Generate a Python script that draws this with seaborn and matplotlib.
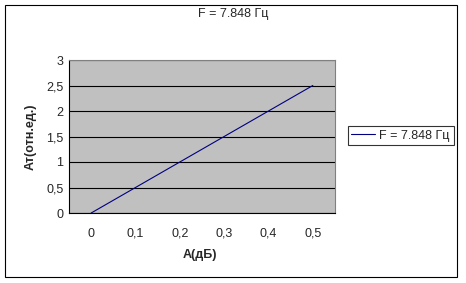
import matplotlib
matplotlib.use("Agg")
import matplotlib.pyplot as plt
import matplotlib.patches as mpatches
import seaborn as sns
import pandas as pd
import numpy as np

categories = ["0", "0,1", "0,2", "0,3", "0,4", "0,5"]
values = [0.0, 0.5, 1.0, 1.5, 2.0, 2.5]
y_ticks = [0, 0.5, 1, 1.5, 2, 2.5, 3]
y_tick_labels = ["0", "0,5", "1", "1,5", "2", "2,5", "3"]
series_name = "F = 7.848 Гц"
title = "F = 7.848 Гц"
x_label = "A(дБ)"
y_label = "Ат(отн.ед.)"

sns.set_style("white")
plt.rcParams["font.family"] = ["Liberation Sans", "DejaVu Sans"]
FS = 9

W, H = 466, 283
fig = plt.figure(figsize=(W / 100, H / 100), dpi=100)
fig.patch.set_facecolor("white")

L, R, T, B = 69, 335, 60, 213
ax = fig.add_axes([L / W, (H - B) / H, (R - L) / W, (B - T) / H])
ax.set_facecolor("#C0C0C0")

df = pd.DataFrame({"pos": np.arange(len(categories)), "val": values, "series": series_name})
sns.lineplot(data=df, x="pos", y="val", ax=ax, color="#000080", linewidth=0.8,
             label=series_name, legend=False)

ax.set_xlim(-0.5, len(categories) - 0.5)
ax.set_ylim(0, 3)
ax.set_xticks(np.arange(len(categories)))
ax.set_xticklabels(categories, fontsize=FS)
ax.set_xticks(np.arange(len(categories) + 1) - 0.5, minor=True)
ax.tick_params(axis="x", which="major", length=0, pad=10.5)
ax.tick_params(axis="x", which="minor", length=3, width=0.8, color="black", direction="out")
ax.set_yticks(y_ticks)
ax.set_yticklabels(y_tick_labels, fontsize=FS)
ax.tick_params(axis="y", which="major", length=2.5, width=0.8, color="black", pad=1.5, direction="out")
ax.yaxis.grid(True, color="black", linewidth=0.8)
ax.xaxis.grid(False)
ax.set_axisbelow(True)

for s in ["left", "bottom"]:
    ax.spines[s].set_color("black")
    ax.spines[s].set_linewidth(0.8)
for s in ["top", "right"]:
    ax.spines[s].set_color("#808080")
    ax.spines[s].set_linewidth(0.8)

ax.set_xlabel(x_label, fontsize=FS, fontweight="bold", va="center", ha="center")
ax.xaxis.set_label_coords(0.5 + (200 - (L + R) / 2) / (R - L), -(255 - B) / (B - T))
ax.set_ylabel(y_label, fontsize=FS, fontweight="bold", va="center", ha="center")
ax.yaxis.set_label_coords(-(L - 31) / (R - L), 0.5)

fig.suptitle(title, x=233 / W, y=1 - 14.5 / H, fontsize=FS, va="center", ha="center")

handles, labels = ax.get_legend_handles_labels()
leg = fig.legend(handles, labels, loc="center", bbox_to_anchor=(400.5 / W, 1 - 135.5 / H),
                 fontsize=FS, frameon=True, fancybox=False, shadow=False,
                 handlelength=1.9, handletextpad=0.35, borderpad=0.3, borderaxespad=0)
leg.get_frame().set_edgecolor("black")
leg.get_frame().set_linewidth(0.8)
leg.get_frame().set_facecolor("white")

fig.patches.append(mpatches.Rectangle((5 / W, 1 - 277 / H), 452 / W, 272 / H,
                                      transform=fig.transFigure, fill=False,
                                      edgecolor="black", linewidth=0.8))

fig.savefig("out.png", dpi=100)
